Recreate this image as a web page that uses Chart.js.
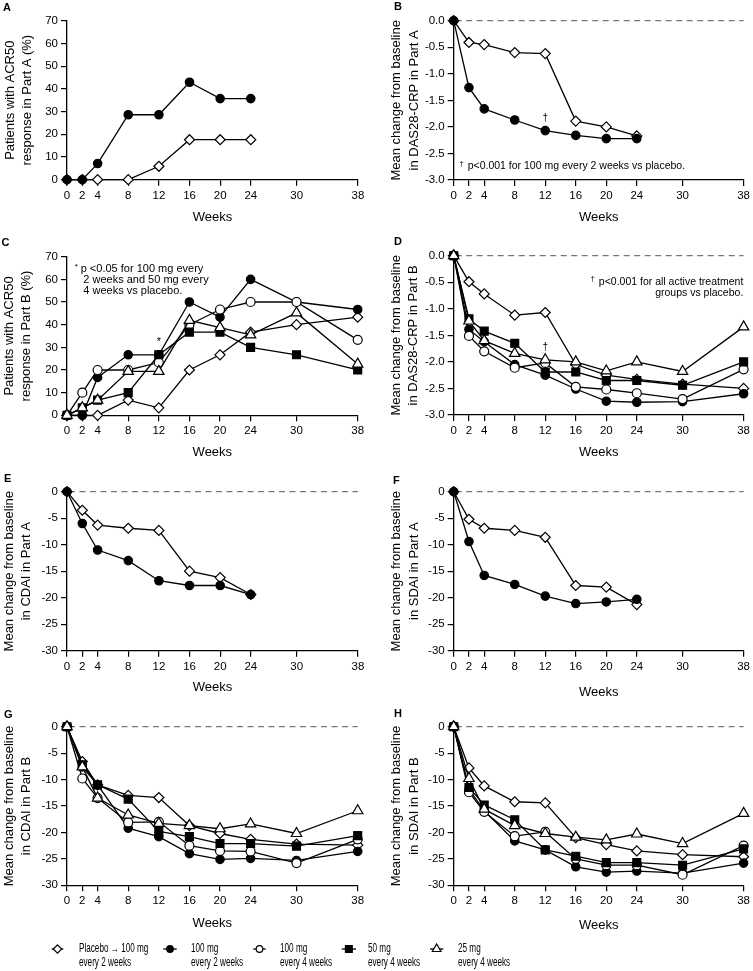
<!DOCTYPE html>
<html><head><meta charset="utf-8">
<script src="https://cdn.jsdelivr.net/npm/chart.js@4.4.1/dist/chart.umd.min.js"></script>
<style>
html,body{margin:0;padding:0;background:#fff;}
body{width:753px;height:971px;position:relative;overflow:hidden;font-family:"Liberation Sans",Arial,sans-serif;color:#000;}
canvas{position:absolute;}
.pl{position:absolute;font-weight:bold;font-size:11px;line-height:12px;}
.lg{position:absolute;font-size:12px;line-height:13.7px;white-space:nowrap;transform:scaleX(0.68);transform-origin:0 0;}
</style></head>
<body>
<canvas id="cA" width="376" height="230" style="left:0;top:0"></canvas>
<canvas id="cB" width="377" height="230" style="left:376px;top:0"></canvas>
<canvas id="cC" width="376" height="240" style="left:0;top:225px"></canvas>
<canvas id="cD" width="377" height="240" style="left:376px;top:225px"></canvas>
<canvas id="cE" width="376" height="240" style="left:0;top:465px"></canvas>
<canvas id="cF" width="377" height="240" style="left:376px;top:465px"></canvas>
<canvas id="cG" width="376" height="230" style="left:0;top:705px"></canvas>
<canvas id="cH" width="377" height="230" style="left:376px;top:705px"></canvas>
<div class="pl" style="left:3px;top:1px">A</div>
<div class="pl" style="left:394px;top:0px">B</div>
<div class="pl" style="left:1.5px;top:236px">C</div>
<div class="pl" style="left:394px;top:235px">D</div>
<div class="pl" style="left:4px;top:472px">E</div>
<div class="pl" style="left:393px;top:474px">F</div>
<div class="pl" style="left:4px;top:708px">G</div>
<div class="pl" style="left:394px;top:707px">H</div>
<svg id="legSvg" width="753" height="46" style="position:absolute;left:0;top:925px"></svg>
<script>
// ---------------- DATA ----------------
const xTicks = [0, 2, 4, 8, 12, 16, 20, 24, 30, 38];
const weeksA = [0, 2, 4, 8, 12, 16, 20, 24];
const weeksB = [0, 2, 4, 8, 12, 16, 20, 24, 30, 38];

// Panel A: ACR50 Part A (%)
const acrA_placebo = [0, 0, 0, 0, 5.9, 17.6, 17.6, 17.6];
const acrA_q2w100  = [0, 0, 7.1, 28.6, 28.6, 42.9, 35.7, 35.7];
// Panel B: DAS28-CRP Part A
const dasA_placebo = [0, -0.41, -0.45, -0.60, -0.62, -1.89, -2.00, -2.17];
const dasA_q2w100  = [0, -1.26, -1.66, -1.87, -2.07, -2.16, -2.22, -2.22];
// Panel C: ACR50 Part B (%)
const acrB_placebo = [0, 0, 0, 6.7, 3.3, 20.0, 26.7, 36.7, 40.0, 43.3];
const acrB_q2w100  = [0, 0, 16.7, 26.7, 26.7, 50.0, 43.3, 60.0, 50.0, 46.7];
const acrB_q4w100  = [0, 10.0, 20.0, 20.0, 23.3, 40.0, 46.7, 50.0, 50.0, 33.3];
const acrB_q4w50   = [0, 3.3, 6.7, 10.0, 26.7, 36.7, 36.7, 30.0, 26.7, 20.0];
const acrB_q4w25   = [0, 3.3, 6.7, 19.4, 19.4, 41.9, 38.7, 35.5, 45.2, 22.6];
// Panel D: DAS28-CRP Part B
const dasB_placebo = [0, -0.49, -0.72, -1.12, -1.07, -2.05, -2.25, -2.33, -2.42, -2.50];
const dasB_q2w100  = [0, -1.39, -1.62, -2.05, -2.25, -2.51, -2.74, -2.76, -2.75, -2.60];
const dasB_q4w100  = [0, -1.51, -1.80, -2.11, -2.02, -2.47, -2.52, -2.59, -2.70, -2.14];
const dasB_q4w50   = [0, -1.19, -1.42, -1.65, -2.19, -2.19, -2.35, -2.35, -2.44, -2.00];
const dasB_q4w25   = [0, -1.23, -1.60, -1.84, -1.96, -2.00, -2.17, -2.00, -2.18, -1.34];
// Panel E: CDAI Part A
const cdaiA_placebo = [0, -3.5, -6.3, -6.9, -7.3, -15.0, -16.2, -19.4];
const cdaiA_q2w100  = [0, -6.0, -11.0, -13.0, -16.8, -17.7, -17.7, -19.4];
// Panel F: SDAI Part A
const sdaiA_placebo = [0, -5.2, -6.9, -7.3, -8.6, -17.7, -18.0, -21.3];
const sdaiA_q2w100  = [0, -9.4, -15.8, -17.5, -19.7, -21.1, -20.8, -20.3];
// Panel G: CDAI Part B
const cdaiB_placebo = [0, -6.6, -11.0, -13.0, -13.4, -18.7, -20.2, -21.3, -22.2, -22.4];
const cdaiB_q2w100  = [0, -7.6, -11.0, -19.2, -20.8, -24.0, -25.1, -24.9, -25.3, -23.6];
const cdaiB_q4w100  = [0, -9.8, -13.5, -18.1, -18.0, -22.5, -23.5, -23.6, -25.8, -21.3];
const cdaiB_q4w50   = [0, -7.2, -11.0, -13.7, -19.8, -20.8, -22.1, -22.1, -22.6, -20.6];
const cdaiB_q4w25   = [0, -7.6, -13.5, -16.7, -18.3, -18.7, -19.3, -18.4, -20.2, -15.9];
// Panel H: SDAI Part B
const sdaiB_placebo = [0, -7.8, -11.2, -14.2, -14.4, -21.0, -22.3, -23.5, -24.2, -24.6];
const sdaiB_q2w100  = [0, -11.8, -15.9, -21.6, -23.3, -26.5, -27.5, -27.3, -27.7, -25.8];
const sdaiB_q4w100  = [0, -12.4, -16.1, -20.7, -19.9, -25.0, -26.2, -26.2, -28.0, -22.5];
const sdaiB_q4w50   = [0, -11.5, -14.8, -17.6, -23.3, -24.5, -25.7, -25.7, -26.2, -23.1];
const sdaiB_q4w25   = [0, -9.8, -15.6, -18.7, -20.2, -20.9, -21.4, -20.3, -22.1, -16.4];

const legendKeys = ['placebo', 'q2w100', 'q4w100', 'q4w50', 'q4w25'];
const legendLabels = [
  ['Placebo \u2192 100 mg', 'every 2 weeks'],
  ['100 mg', 'every 2 weeks'],
  ['100 mg', 'every 4 weeks'],
  ['50 mg', 'every 4 weeks'],
  ['25 mg', 'every 4 weeks']
];

// ---------------- STYLE ----------------
const FAM = '"Liberation Sans", Arial, sans-serif';
const styles = {
  placebo: { pointStyle: 'rectRot', radius: 5, fill: '#fff', order: 5 },
  q2w100:  { pointStyle: 'circle', radius: 4.2, fill: '#000', order: 4 },
  q4w100:  { pointStyle: 'circle', radius: 4.5, fill: '#fff', order: 3 },
  q4w50:   { pointStyle: 'rect', radius: 5.6, fill: '#000', order: 2 },
  q4w25:   { pointStyle: 'triangle', radius: 6, fill: '#fff', order: 1 }
};

function ds(key, xs, ys) {
  const s = styles[key];
  return {
    label: key,
    data: xs.map((x, i) => ({ x: x, y: ys[i] })),
    borderColor: '#000', borderWidth: 1.3,
    pointStyle: s.pointStyle, pointRadius: s.radius,
    pointBackgroundColor: s.fill, pointBorderColor: '#000', pointBorderWidth: 1.2,
    order: s.order, clip: false, tension: 0, fill: false
  };
}

function makePanel(id, cfg) {
  const cv = document.getElementById(id);
  const W = cv.width, H = cv.height;
  const decor = {
    id: 'decor_' + id,
    beforeDatasetsDraw(chart) {
      const ctx = chart.ctx, ca = chart.chartArea;
      if (cfg.zeroLine) {
        const y = chart.scales.y.getPixelForValue(0);
        ctx.save();
        ctx.setLineDash([6, 4.5]);
        ctx.strokeStyle = '#555';
        ctx.lineWidth = 1;
        ctx.beginPath();
        ctx.moveTo(ca.left + 2, y);
        ctx.lineTo(ca.right, y);
        ctx.stroke();
        ctx.restore();
      }
    },
    afterDatasetsDraw(chart) {
      const ctx = chart.ctx;
      ctx.save();
      ctx.fillStyle = '#000';
      (cfg.marks || []).forEach(m => {
        ctx.font = m.size + 'px ' + FAM;
        ctx.textAlign = 'center';
        ctx.textBaseline = 'middle';
        ctx.fillText(m.text, chart.scales.x.getPixelForValue(m.x), chart.scales.y.getPixelForValue(m.y));
      });
      (cfg.notes || []).forEach(n => {
        ctx.font = n.size + 'px ' + FAM;
        ctx.textAlign = n.align;
        ctx.textBaseline = 'middle';
        ctx.fillText(n.text, n.px, n.py);
        if (n.sup) {
          const w = ctx.measureText(n.text).width;
          const gap = n.supDx || 5;
          const sx = n.align === 'right' ? n.px - w - gap : n.px - gap;
          ctx.font = '8px ' + FAM;
          ctx.textAlign = 'center';
          ctx.fillText(n.sup, sx, n.py - 2.5);
        }
      });
      ctx.restore();
    }
  };
  return new Chart(cv, {
    type: 'line',
    data: { datasets: cfg.datasets },
    options: {
      responsive: false, animation: false, devicePixelRatio: 1,
      layout: { padding: { left: cfg.pl, top: cfg.T, right: W - cfg.R, bottom: 0 } },
      plugins: { legend: { display: false }, tooltip: { enabled: false } },
      scales: {
        x: {
          type: 'linear', min: 0, max: 38,
          afterBuildTicks: s => { s.ticks = xTicks.map(v => ({ value: v })); },
          afterFit: s => { s.height = H - cfg.B; },
          grid: { display: true, drawOnChartArea: false, drawTicks: true, tickLength: 6, color: '#000', lineWidth: 1.2 },
          border: { display: true, color: '#000', width: 1.3 },
          ticks: { color: '#000', font: { family: FAM, size: 11.5 }, padding: 3, maxRotation: 0, autoSkip: false, callback: v => String(v) },
          title: { display: true, text: 'Weeks', color: '#000', font: { family: FAM, size: 13 }, padding: { top: 0, bottom: cfg.wb } }
        },
        y: {
          type: 'linear', min: cfg.ymin, max: cfg.ymax,
          afterFit: s => { s.width = cfg.L - cfg.pl; },
          grid: { display: true, drawOnChartArea: false, drawTicks: true, tickLength: 6, color: '#000', lineWidth: 1.2 },
          border: { display: true, color: '#000', width: 1.3 },
          ticks: { stepSize: cfg.step, color: '#000', font: { family: FAM, size: 11.5 }, padding: 3, autoSkip: false, callback: cfg.fmt },
          title: { display: true, text: cfg.ytitle, color: '#000', font: { family: FAM, size: 13, lineHeight: 1.35 }, padding: { top: 0, bottom: 0 } }
        }
      }
    },
    plugins: [decor]
  });
}

const fmtInt = v => String(v);
const fmt1 = v => v.toFixed(1);

// A
makePanel('cA', {
  pl: 1.2, L: 67, R: 358, T: 20.7, B: 179.7, wb: 5.2,
  ymin: 0, ymax: 70, step: 10, fmt: fmtInt,
  ytitle: ['Patients with ACR50', 'response in Part A (%)'],
  datasets: [ds('placebo', weeksA, acrA_placebo), ds('q2w100', weeksA, acrA_q2w100)]
});
// B
makePanel('cB', {
  pl: 11.9, L: 77.7, R: 368.3, T: 20.7, B: 180, wb: 5.2, zeroLine: true,
  ymin: -3, ymax: 0, step: 0.5, fmt: fmt1,
  ytitle: ['Mean change from baseline', 'in DAS28-CRP in Part A'],
  datasets: [ds('placebo', weeksA, dasA_placebo), ds('q2w100', weeksA, dasA_q2w100)],
  marks: [{ x: 12, y: -1.84, text: '\u2020', size: 10 }],
  notes: [{ text: 'p<0.001 for 100 mg every 2 weeks vs placebo.', px: 91.7, py: 166, align: 'left', size: 10.5, sup: '\u2020', supDx: 6 }]
});
// C
makePanel('cC', {
  pl: 0.5, L: 67, R: 357.7, T: 31.7, B: 190.3, wb: 4.5,
  ymin: 0, ymax: 70, step: 10, fmt: fmtInt,
  ytitle: ['Patients with ACR50', 'response in Part B (%)'],
  datasets: [ds('placebo', weeksB, acrB_placebo), ds('q2w100', weeksB, acrB_q2w100), ds('q4w100', weeksB, acrB_q4w100), ds('q4w50', weeksB, acrB_q4w50), ds('q4w25', weeksB, acrB_q4w25)],
  marks: [{ x: 12, y: 32.5, text: '*', size: 11 }],
  notes: [
    { text: 'p <0.05 for 100 mg every', px: 80.7, py: 44, align: 'left', size: 11, sup: '*', supDx: 4.5 },
    { text: '2 weeks and 50 mg every', px: 83.3, py: 55, align: 'left', size: 11 },
    { text: '4 weeks vs placebo.', px: 83.3, py: 66, align: 'left', size: 11 }
  ]
});
// D
makePanel('cD', {
  pl: 11.2, L: 77.7, R: 368.3, T: 30.7, B: 190, wb: 4.5, zeroLine: true,
  ymin: -3, ymax: 0, step: 0.5, fmt: fmt1,
  ytitle: ['Mean change from baseline', 'in DAS28-CRP in Part B'],
  datasets: [ds('placebo', weeksB, dasB_placebo), ds('q2w100', weeksB, dasB_q2w100), ds('q4w100', weeksB, dasB_q4w100), ds('q4w50', weeksB, dasB_q4w50), ds('q4w25', weeksB, dasB_q4w25)],
  marks: [{ x: 12, y: -1.73, text: '\u2020', size: 10 }],
  notes: [
    { text: 'p<0.001 for all active treatment', px: 367.3, py: 56.7, align: 'right', size: 10.5, sup: '\u2020', supDx: 6 },
    { text: 'groups vs placebo.', px: 367.3, py: 68.3, align: 'right', size: 10.5 }
  ]
});
// E
makePanel('cE', {
  pl: 0.4, L: 67, R: 358, T: 26.7, B: 185.7, wb: 9.5, zeroLine: true,
  ymin: -30, ymax: 0, step: 5, fmt: fmtInt,
  ytitle: ['Mean change from baseline', 'in CDAI in Part A'],
  datasets: [ds('placebo', weeksA, cdaiA_placebo), ds('q2w100', weeksA, cdaiA_q2w100)]
});
// F
makePanel('cF', {
  pl: 12, L: 77.7, R: 368.3, T: 26.7, B: 185.7, wb: 4.5, zeroLine: true,
  ymin: -30, ymax: 0, step: 5, fmt: fmtInt,
  ytitle: ['Mean change from baseline', 'in SDAI in Part A'],
  datasets: [ds('placebo', weeksA, sdaiA_placebo), ds('q2w100', weeksA, sdaiA_q2w100)]
});
// G
makePanel('cG', {
  pl: 0.4, L: 67, R: 357.7, T: 21.7, B: 180.3, wb: 3.9, zeroLine: true,
  ymin: -30, ymax: 0, step: 5, fmt: fmtInt,
  ytitle: ['Mean change from baseline', 'in CDAI in Part B'],
  datasets: [ds('placebo', weeksB, cdaiB_placebo), ds('q2w100', weeksB, cdaiB_q2w100), ds('q4w100', weeksB, cdaiB_q4w100), ds('q4w50', weeksB, cdaiB_q4w50), ds('q4w25', weeksB, cdaiB_q4w25)]
});
// H
makePanel('cH', {
  pl: 12, L: 77.7, R: 368.3, T: 21.7, B: 180.3, wb: 2.2, zeroLine: true,
  ymin: -30, ymax: 0, step: 5, fmt: fmtInt,
  ytitle: ['Mean change from baseline', 'in SDAI in Part B'],
  datasets: [ds('placebo', weeksB, sdaiB_placebo), ds('q2w100', weeksB, sdaiB_q2w100), ds('q4w100', weeksB, sdaiB_q4w100), ds('q4w50', weeksB, sdaiB_q4w50), ds('q4w25', weeksB, sdaiB_q4w25)]
});

// ---------------- LEGEND ----------------
(function () {
  const svg = document.getElementById('legSvg');
  const NS = 'http://www.w3.org/2000/svg';
  const symX = [[51.7, 63.3], [163.3, 176.7], [253.3, 265.7], [341.7, 356], [430, 443.3]];
  const txtX = [79.3, 190.7, 280, 368.3, 458.3];
  const cy = 24;
  legendKeys.forEach((k, i) => {
    const [x1, x2] = symX[i];
    const cx = (x1 + x2) / 2;
    const ln = document.createElementNS(NS, 'line');
    ln.setAttribute('x1', x1); ln.setAttribute('x2', x2);
    ln.setAttribute('y1', cy); ln.setAttribute('y2', cy);
    ln.setAttribute('stroke', '#000'); ln.setAttribute('stroke-width', '1.3');
    svg.appendChild(ln);
    const s = styles[k];
    let m;
    if (s.pointStyle === 'circle') {
      m = document.createElementNS(NS, 'circle');
      m.setAttribute('cx', cx); m.setAttribute('cy', cy); m.setAttribute('r', 3.3);
    } else if (s.pointStyle === 'rectRot') {
      m = document.createElementNS(NS, 'polygon');
      const r = 4.2;
      m.setAttribute('points', `${cx},${cy - r} ${cx + r},${cy} ${cx},${cy + r} ${cx - r},${cy}`);
    } else if (s.pointStyle === 'rect') {
      m = document.createElementNS(NS, 'rect');
      m.setAttribute('x', cx - 3.4); m.setAttribute('y', cy - 3.4);
      m.setAttribute('width', 6.8); m.setAttribute('height', 6.8);
    } else {
      m = document.createElementNS(NS, 'polygon');
      const r = 5;
      m.setAttribute('points', `${cx},${cy - r} ${cx + r * 0.866},${cy + r / 2} ${cx - r * 0.866},${cy + r / 2}`);
    }
    m.setAttribute('fill', s.fill); m.setAttribute('stroke', '#000'); m.setAttribute('stroke-width', '1.2');
    svg.appendChild(m);
    const d = document.createElement('div');
    d.className = 'lg';
    d.style.left = txtX[i] + 'px';
    d.style.top = (925 + cy - 7) + 'px';
    d.innerHTML = legendLabels[i][0] + '<br>' + legendLabels[i][1];
    document.body.appendChild(d);
  });
})();
</script>
</body></html>
